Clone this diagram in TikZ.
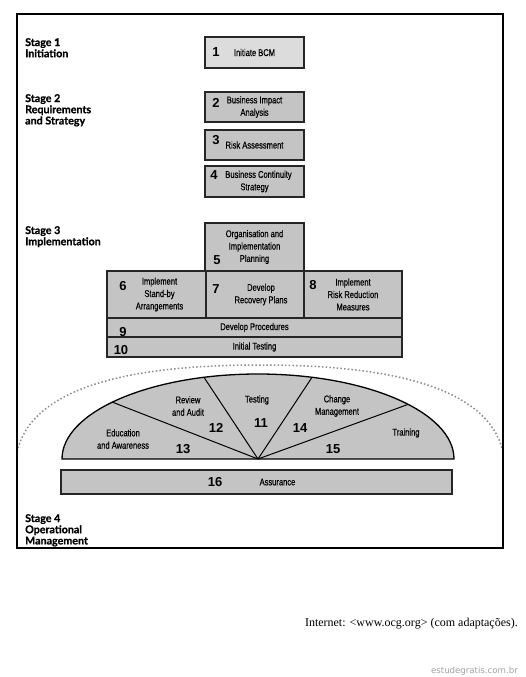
\documentclass[tikz,border=0pt]{standalone}
\usepackage{fontspec}
\setmainfont{Liberation Serif}
\newfontfamily\boxfont[FakeStretch=0.77, FakeBold=0.4]{Liberation Sans}
\newfontfamily\numfont{Liberation Sans}
\newfontfamily\stagefont[BoldFeatures={FakeBold=0.8}]{Lato}
\newfontfamily\markfont{DejaVu Sans}
\usetikzlibrary{positioning}
\definecolor{boxgray}{HTML}{C4C4C4}
\definecolor{palegray}{HTML}{DCDCDC}
\definecolor{dotgray}{HTML}{8C8C8C}
\definecolor{markgray}{HTML}{A0A0A0}

\tikzset{
  phase/.style={draw=black!85, line width=1.5pt, fill=boxgray, inner sep=0pt, align=center,
    font=\boxfont\fontsize{9.8}{12.4}\selectfont},
  num/.style={inner sep=0pt, font=\numfont\bfseries\fontsize{13}{13}\selectfont},
  stage/.style={anchor=north west, inner sep=0pt, align=left,
    font=\stagefont\bfseries\fontsize{10.7}{11.2}\selectfont},
  fan/.style={inner sep=0pt, align=center, font=\boxfont\fontsize{9.8}{12.4}\selectfont}
}

\begin{document}
\begin{tikzpicture}[x=1pt, y=-1pt]
    \useasboundingbox (0,0) rectangle (525,677);

    \begin{scope}
        \clip (17,14) rectangle (503,548);
        \draw[dotgray, line width=1.5pt, dash pattern=on 1.5pt off 2.2pt]
            (15,470) .. controls (15,380) and (150,365) .. (260,365)
                     .. controls (370,365) and (505,380) .. (505,470);
    \end{scope}
    \draw[line width=1.5pt] (17,14) rectangle (503,548);

    \node[stage] (stage 1) at (25,38)  {Stage 1\\Initiation};
    \node[stage] (stage 2) at (25,94)  {Stage 2\\Requirements\\and Strategy};
    \node[stage] (stage 3) at (25,226) {Stage 3\\Implementation};
    \node[stage] (stage 4) at (25,514) {Stage 4\\Operational\\Management};

    \node[phase, fill=palegray, minimum width=99pt, minimum height=31pt] (step 1) at (254.5,52.5) {Initiate BCM};
    \node[phase, minimum width=99pt, minimum height=30pt] (step 2) at (254.5,107) {Business Impact\\Analysis};
    \node[phase, minimum width=99pt, minimum height=30pt] (step 3) at (254.5,145) {Risk Assessment};
    \node[phase, minimum width=99pt, minimum height=31pt] (step 4) at (254.5,181.5) {\hspace*{8pt}Business Continuity\\Strategy};
    \node[phase, minimum width=99pt, minimum height=48pt] (step 5) at (254.5,247) {Organisation and\\Implementation\\Planning};
    \node[phase, minimum width=99pt, minimum height=47pt] (step 6) at (156.5,294.5) {\hspace*{6pt}Implement\\\hspace*{6pt}Stand-by\\\hspace*{6pt}Arrangements};
    \node[phase, minimum width=98pt, minimum height=47pt] (step 7) at (255,294.5) {\hspace*{12pt}Develop\\\hspace*{12pt}Recovery Plans};
    \node[phase, minimum width=98pt, minimum height=47pt] (step 8) at (353,294.5) {Implement\\Risk Reduction\\Measures};
    \node[phase, minimum width=295pt, minimum height=19pt] (step 9) at (254.5,327.5) {Develop Procedures};
    \node[phase, minimum width=295pt, minimum height=20pt] (step 10) at (254.5,347) {Initial Testing};

    \coordinate (hub) at (258,459);
    \draw[line width=1.3pt, fill=boxgray] (hub) ++(-196pt,0pt)
        arc[start angle=180, end angle=0, x radius=196pt, y radius=85pt] -- cycle;
    \foreach \a in {138,106,74,40}
        \draw[line width=1pt] (hub) -- +(\a:196pt and 85pt);

    \node[fan] (education) at (123,439) {Education\\and Awareness};
    \node[fan] (review)    at (188,406) {Review\\and Audit};
    \node[fan] (testing)   at (257,400) {Testing};
    \node[fan] (change)    at (337,406) {Change\\Management};
    \node[fan] (training)  at (406,433) {Training};

    \node[phase, minimum width=391pt, minimum height=24pt] (step 16) at (256.5,482) {\hspace*{84pt}Assurance\hspace*{42pt}};

    \node[num] (n1)  at (216,52)  {1};
    \node[num] (n2)  at (216,103) {2};
    \node[num] (n3)  at (216,140) {3};
    \node[num] (n4)  at (214,175) {4};
    \node[num] (n5)  at (217,260) {5};
    \node[num] (n6)  at (123,286) {6};
    \node[num] (n7)  at (216,289) {7};
    \node[num] (n8)  at (313,285) {8};
    \node[num] (n9)  at (123,332) {9};
    \node[num] (n10) at (121,350) {10};
    \node[num] (n11) at (261,423) {11};
    \node[num] (n12) at (216,428) {12};
    \node[num] (n13) at (183,449) {13};
    \node[num] (n14) at (300,428) {14};
    \node[num] (n15) at (333,449) {15};
    \node[num] (n16) at (215,482) {16};

    \node[anchor=east, inner sep=0pt, font=\fontsize{12}{14}\selectfont] (source) at (518,624)
        {Internet: <www.ocg.org> (com adaptações).};
    \node[anchor=east, inner sep=0pt, text=markgray, font=\markfont\fontsize{8.6}{10}\selectfont] (site) at (518,671)
        {estudegratis.com.br};
\end{tikzpicture}
\end{document}
